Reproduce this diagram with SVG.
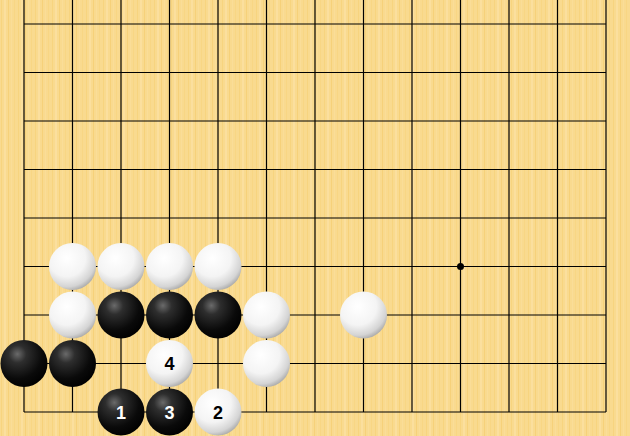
<svg xmlns="http://www.w3.org/2000/svg" width="630" height="436" viewBox="0 0 630 436">
<defs>
<pattern id="wood" x="0" y="0" width="17" height="436" patternUnits="userSpaceOnUse">
<rect width="17" height="436" fill="#F9DA8F"/>
<rect x="1" width="1" height="436" fill="#F7D47F"/>
<rect x="4" width="2" height="436" fill="#FBDF9E"/>
<rect x="8" width="1" height="436" fill="#F6D17A"/>
<rect x="11" width="1" height="436" fill="#FADD98"/>
<rect x="14" width="1" height="436" fill="#F8D684"/>
</pattern>
<radialGradient id="gw" cx="0.38" cy="0.32" r="0.72">
<stop offset="0" stop-color="#FFFFFF"/>
<stop offset="0.55" stop-color="#F4F4F4"/>
<stop offset="0.85" stop-color="#D4D4D4"/>
<stop offset="1" stop-color="#A8A8A8"/>
</radialGradient>
<radialGradient id="gb" cx="0.36" cy="0.3" r="0.75">
<stop offset="0" stop-color="#6A6A6A"/>
<stop offset="0.25" stop-color="#2E2E2E"/>
<stop offset="0.7" stop-color="#0A0A0A"/>
<stop offset="1" stop-color="#000000"/>
</radialGradient>
<circle id="w" r="23.5" fill="url(#gw)"/>
<circle id="b" r="23.5" fill="url(#gb)"/>
</defs>
<style>
.g line{stroke:#000;stroke-width:1.2}
.n{font-family:"Liberation Sans",Arial,sans-serif;font-weight:bold;font-size:18px;text-anchor:middle}
.nb{fill:#FFFFFF}
.nw{fill:#000000}
</style>
<rect width="630" height="436" fill="url(#wood)"/>
<g id="grid" class="g">
<line x1="24" y1="0" x2="24" y2="412"/>
<line x1="72.5" y1="0" x2="72.5" y2="412"/>
<line x1="121" y1="0" x2="121" y2="412"/>
<line x1="169.5" y1="0" x2="169.5" y2="412"/>
<line x1="218" y1="0" x2="218" y2="412"/>
<line x1="266.5" y1="0" x2="266.5" y2="412"/>
<line x1="315" y1="0" x2="315" y2="412"/>
<line x1="363.5" y1="0" x2="363.5" y2="412"/>
<line x1="412" y1="0" x2="412" y2="412"/>
<line x1="460.5" y1="0" x2="460.5" y2="412"/>
<line x1="509" y1="0" x2="509" y2="412"/>
<line x1="557.5" y1="0" x2="557.5" y2="412"/>
<line x1="606" y1="0" x2="606" y2="412"/>
<line x1="24" y1="24" x2="606" y2="24"/>
<line x1="24" y1="72.5" x2="606" y2="72.5"/>
<line x1="24" y1="121" x2="606" y2="121"/>
<line x1="24" y1="169.5" x2="606" y2="169.5"/>
<line x1="24" y1="218" x2="606" y2="218"/>
<line x1="24" y1="266.5" x2="606" y2="266.5"/>
<line x1="24" y1="315" x2="606" y2="315"/>
<line x1="24" y1="363.5" x2="606" y2="363.5"/>
<line x1="24" y1="412" x2="606" y2="412"/>
<circle cx="460.5" cy="266.5" r="3.5" fill="#000"/>
</g>
<g id="connectors"></g>
<g id="w1"><use href="#w" x="72.5" y="266.5"/></g>
<g id="w2"><use href="#w" x="121" y="266.5"/></g>
<g id="w3"><use href="#w" x="169.5" y="266.5"/></g>
<g id="w4"><use href="#w" x="218" y="266.5"/></g>
<g id="w5"><use href="#w" x="72.5" y="315"/></g>
<g id="b1"><use href="#b" x="121" y="315"/></g>
<g id="b2"><use href="#b" x="169.5" y="315"/></g>
<g id="b3"><use href="#b" x="218" y="315"/></g>
<g id="w6"><use href="#w" x="266.5" y="315"/></g>
<g id="w7"><use href="#w" x="363.5" y="315"/></g>
<g id="b4"><use href="#b" x="24" y="363.5"/></g>
<g id="b5"><use href="#b" x="72.5" y="363.5"/></g>
<g id="m4"><use href="#w" x="169.5" y="363.5"/><text class="n nw" x="169.5" y="370">4</text></g>
<g id="w8"><use href="#w" x="266.5" y="363.5"/></g>
<g id="m1"><use href="#b" x="121" y="412"/><text class="n nb" x="121" y="418.5">1</text></g>
<g id="m3"><use href="#b" x="169.5" y="412"/><text class="n nb" x="169.5" y="418.5">3</text></g>
<g id="m2"><use href="#w" x="218" y="412"/><text class="n nw" x="218" y="418.5">2</text></g>
</svg>
